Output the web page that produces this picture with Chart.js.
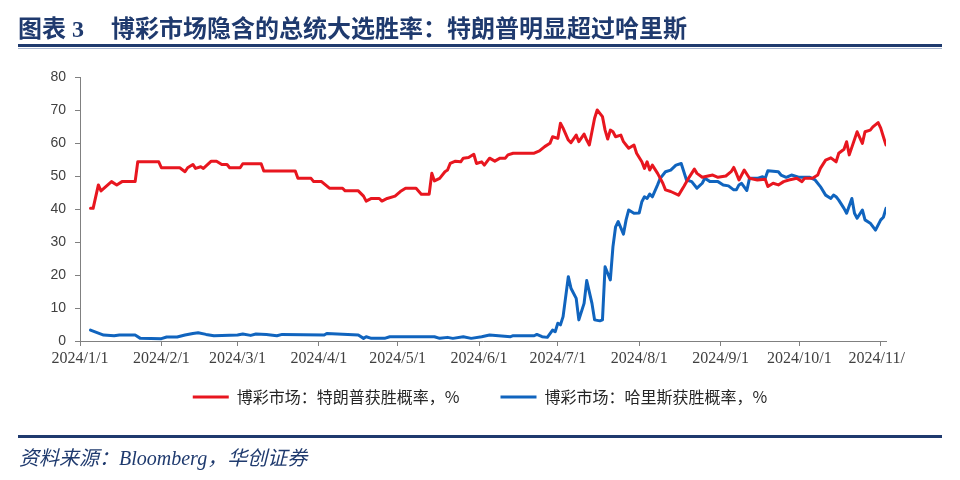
<!DOCTYPE html>
<html>
<head>
<meta charset="utf-8">
<script src="https://cdn.jsdelivr.net/npm/chart.js@4.4.1/dist/chart.umd.min.js"></script>
<style>
html,body{margin:0;padding:0;background:#fff;width:960px;height:480px;overflow:hidden;}
#title{position:absolute;left:18px;top:12px;font-family:"Noto Sans CJK SC",sans-serif;font-weight:bold;font-size:24px;line-height:30px;color:#1f3a6e;white-space:nowrap;}
#title .num{margin-left:6px;font-family:"Liberation Serif",serif;}
#title .main{margin-left:27px;}
#tline{position:absolute;left:18px;top:44px;width:924px;height:3px;background:#1f3a6e;}
#tline2{position:absolute;left:18px;top:48px;width:924px;height:1px;background:#a9b6cf;}
#wrap{position:absolute;left:0;top:0;width:906px;height:480px;overflow:hidden;}
#bline{position:absolute;left:18px;top:435px;width:924px;height:3px;background:#1f3a6e;}
#src{position:absolute;left:19px;top:444px;font-family:"Liberation Serif","Noto Sans CJK SC",serif;font-style:italic;font-size:20px;line-height:28px;color:#1f3a6e;white-space:nowrap;}
</style>
</head>
<body>
<div id="wrap"><canvas id="c" width="960" height="480"></canvas></div>
<div id="title">图表<span class="num">3</span><span class="main">博彩市场隐含的总统大选胜率：特朗普明显超过哈里斯</span></div>
<div id="tline"></div>
<div id="tline2"></div>
<div id="bline"></div>
<div id="src">资料来源：Bloomberg，华创证券</div>
<script>
// x positions are days since 2024-01-01
const tickDays = [0, 31, 60, 91, 121, 152, 182, 213, 244, 274, 305];
const tickLabels = ['2024/1/1','2024/2/1','2024/3/1','2024/4/1','2024/5/1','2024/6/1','2024/7/1','2024/8/1','2024/9/1','2024/10/1','2024/11/1'];
const seriesNames = ['博彩市场：特朗普获胜概率，%', '博彩市场：哈里斯获胜概率，%'];

const trumpDays = [
  4,5,7,8,12,14,16,21,22,30,
  31,38,40,41,43,44,46,47,50,52,
  54,56,57,61,62,69,70,82,83,88,
  89,92,95,100,101,106,108,109,111,114,
  115,117,120,122,124,128,130,133,134,135,
  137,139,140,141,143,145,146,148,150,151,
  153,154,156,158,160,162,163,165,173,175,
  177,179,180,182,183,184,186,187,189,190,
  192,193,194,196,197,199,200,201,202,203,
  204,206,207,208,209,211,212,214,215,216,
  217,218,220,222,223,225,228,230,232,234,
  235,237,241,243,246,248,249,250,251,252,
  253,255,258,261,262,264,266,268,270,273,
  275,276,279,281,282,284,286,288,289,291,
  292,293,296,298,299,301,302,304,305,306,
  307
];
const trumpVals = [
  40.2,40.2,47.3,45.5,48.3,47.3,48.3,48.3,54.3,54.3,
  52.5,52.5,51.3,52.5,53.5,52.3,52.8,52.3,54.5,54.5,
  53.5,53.5,52.5,52.5,53.7,53.7,51.5,51.5,49.3,49.3,
  48.3,48.3,46.3,46.3,45.5,45.5,43.9,42.4,43.2,43.2,
  42.4,43.2,43.9,45.3,46.3,46.3,44.5,44.5,50.8,48.5,
  49.3,51.3,51.8,53.8,54.5,54.3,55.4,55.6,56.6,53.8,
  54.3,53.3,55.4,54.5,55.4,55.4,56.4,56.9,56.9,57.6,
  58.9,59.9,61.9,61.4,66.0,64.5,60.9,60.1,62.4,60.4,
  62.7,60.9,59.4,67.5,70.0,68.0,63.9,61.2,63.9,63.4,
  61.9,62.4,60.4,59.4,58.4,59.4,56.9,54.3,52.3,54.3,
  51.8,53.3,50.8,47.8,45.8,45.3,44.2,46.8,49.6,52.1,
  50.8,49.6,50.3,49.6,50.0,51.3,52.6,50.8,48.8,50.3,
  51.8,49.3,48.8,49.0,46.8,47.8,47.3,48.3,48.8,49.3,
  48.3,49.3,49.3,50.3,52.3,54.8,55.5,54.3,56.9,58.1,
  60.4,56.4,63.4,59.9,63.4,63.9,64.9,66.2,64.5,61.9,
  59.4
];

const harrisDays = [
  4,9,13,15,21,23,31,33,37,40,
  43,45,48,51,60,62,65,67,71,75,
  77,93,94,106,108,109,111,116,118,135,
  137,140,142,146,149,153,156,164,165,173,
  174,176,178,180,181,182,183,184,186,187,
  189,190,192,193,195,196,198,199,200,202,
  203,204,205,207,208,209,211,213,214,215,
  216,217,218,220,221,223,225,227,229,230,
  231,233,235,237,238,240,243,245,247,249,
  250,251,252,254,255,258,260,261,262,266,
  267,269,271,274,278,280,282,284,286,287,
  288,289,291,292,294,295,296,298,299,301,
  303,305,306,307
];
const harrisVals = [
  3.3,1.8,1.6,1.8,1.8,0.8,0.7,1.2,1.2,1.8,
  2.3,2.5,2.0,1.6,1.8,2.1,1.7,2.1,2.0,1.6,
  2.0,1.8,2.3,1.8,0.8,1.3,0.8,0.8,1.3,1.3,
  0.8,1.1,0.8,1.3,0.8,1.3,1.8,1.3,1.6,1.6,
  2.0,1.3,1.1,3.3,2.8,5.4,4.9,7.4,19.5,16.0,
  12.9,6.4,11.4,18.3,11.4,6.4,6.1,6.4,22.5,18.5,
  28.6,34.6,36.2,32.4,36.7,39.7,38.7,38.8,42.2,43.7,
  43.2,44.5,43.7,47.3,49.3,51.3,51.8,53.3,53.8,51.3,
  48.8,48.3,46.3,47.8,49.3,48.3,48.3,47.3,47.0,45.8,
  45.8,47.3,47.8,45.6,49.3,49.3,49.8,49.3,51.6,51.3,
  50.3,49.6,50.3,49.6,49.6,48.8,46.8,44.2,43.2,44.2,
  43.7,42.7,40.2,38.7,43.2,38.7,37.2,39.7,36.7,35.7,
  33.6,36.7,37.5,40.2
];

const RED = '#e8161f';
const BLUE = '#1064be';
const AXIS = '#808080';
const TXT = '#404040';

function pts(days, vals) { return days.map((d, i) => ({ x: d, y: vals[i] })); }

// lift the legend row closer to the axis while keeping wide horizontal spacing
const legendShift = {
  id: 'legendShift',
  afterLayout(chart) {
    const l = chart.legend;
    if (l) { l.top -= 19; l.bottom -= 19; }
  }
};

new Chart(document.getElementById('c'), {
  type: 'line',
  data: {
    datasets: [
      { label: seriesNames[0], data: pts(trumpDays, trumpVals), borderColor: RED, backgroundColor: RED,
        borderWidth: 3, pointRadius: 0, tension: 0, borderJoinStyle: 'round', borderCapStyle: 'round' },
      { label: seriesNames[1], data: pts(harrisDays, harrisVals), borderColor: BLUE, backgroundColor: BLUE,
        borderWidth: 3, pointRadius: 0, tension: 0, borderJoinStyle: 'round', borderCapStyle: 'round' }
    ]
  },
  plugins: [legendShift],
  options: {
    responsive: false,
    animation: false,
    devicePixelRatio: 1,
    layout: { padding: { top: 77, left: 0, right: 0, bottom: 46 } },
    plugins: {
      tooltip: { enabled: false },
      legend: {
        position: 'bottom',
        labels: {
          boxWidth: 36, boxHeight: 3, padding: 41, color: '#262626',
          font: { family: '"Noto Sans CJK SC"', size: 16 },
          generateLabels: (chart) => Chart.defaults.plugins.legend.labels.generateLabels(chart)
            .map(l => Object.assign(l, { fillStyle: l.strokeStyle, lineWidth: 0 }))
        }
      }
    },
    scales: {
      x: {
        type: 'linear', min: 0, max: 307,
        afterBuildTicks: (s) => { s.ticks = tickDays.map(v => ({ value: v })); },
        afterFit: (s) => { s.height = 26; },
        ticks: { callback: (v, i) => tickLabels[i], autoSkip: false, maxRotation: 0, padding: 3,
          font: { family: '"Liberation Serif"', size: 16 }, color: TXT },
        grid: { display: true, drawOnChartArea: false, drawTicks: true, tickLength: 5, color: AXIS },
        border: { display: true, color: AXIS, width: 1 }
      },
      y: {
        min: 0, max: 80,
        afterFit: (s) => { s.width = 80; },
        ticks: { stepSize: 10, padding: 9, font: { family: '"Liberation Sans"', size: 14 }, color: TXT },
        grid: { display: true, drawOnChartArea: false, drawTicks: true, tickLength: 5, color: AXIS },
        border: { display: true, color: AXIS, width: 1 }
      },
      pad: {
        position: 'right', display: true,
        afterFit: (s) => { s.width = 74; },
        grid: { display: false }, border: { display: false }, ticks: { display: false }
      }
    }
  }
});
</script>
</body>
</html>
